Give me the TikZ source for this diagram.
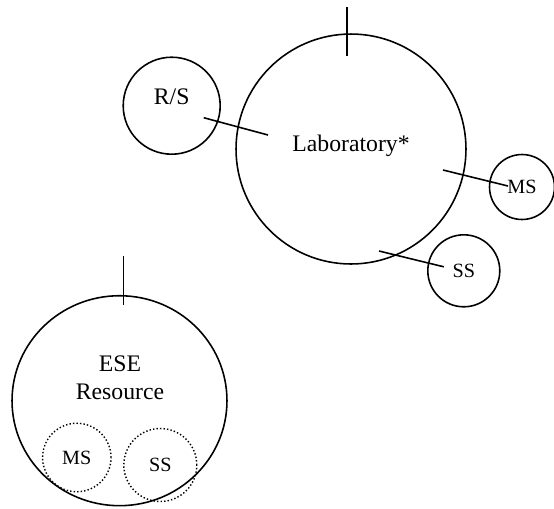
\documentclass[tikz,border=0pt]{standalone}
\usepackage{fontspec}
\setmainfont{Liberation Serif}
\usetikzlibrary{calc,shapes.geometric}

\begin{document}
\begin{tikzpicture}[
  x=0.02cm, y=-0.02cm,
  bubble/.style={circle, draw=black, line width=0.9pt, inner sep=0pt},
  sub/.style={bubble, line width=0.8pt, dash pattern=on 0.8pt off 1.2pt},
  big/.style={font=\fontsize{13.5}{16}\selectfont, align=center},
  small/.style={font=\fontsize{11.5}{13}\selectfont},
  link/.style={line width=0.9pt},
]
\useasboundingbox (0,0) rectangle (554,508);

% Laboratory and its satellites
\node[bubble, minimum size=4.6cm] (lab) at (351,149) {};
\node[big] (labText) at (351,146) {Laboratory*};
\node[bubble, minimum size=1.94cm] (rs) at (171.7,105.7) {};
\node[big] (rsText) at (171.7,97) {R/S};
\node[bubble, small, minimum size=1.3cm] (ms) at (522,187) {MS};
\node[bubble, small, minimum size=1.44cm] (ss) at (463.8,270.8) {SS};

% Links
\draw[link] ($(rs)+(32,12)$) -- ($(lab)+(-83,-14)$);
\draw[link] ($(lab)+(92,21)$) -- ($(ms)+(-14,-1)$);
\draw[link] ($(lab)+(28,102)$) -- ($(ss)+(-20,-4)$);
\draw[link] ($(lab.north)+(-4,-26)$) -- ($(lab.north)+(-4,22.5)$);

% ESE Resource
\node[ellipse, draw=black, line width=0.9pt, inner sep=0pt,
  minimum width=4.3cm, minimum height=4.2cm] (ese) at (119.5,400.7) {};
\node[big] (eseText) at (120,378) {ESE\\Resource};
\node[sub, small, minimum size=1.37cm] (eseMs) at (76.8,457.5) {MS};
\node[sub, small, minimum size=1.46cm] (eseSs) at (160.3,465) {SS};
\draw[link] ($(ese.north)+(4,-39)$) -- ($(ese.north)+(4,10)$);

\end{tikzpicture}
\end{document}
